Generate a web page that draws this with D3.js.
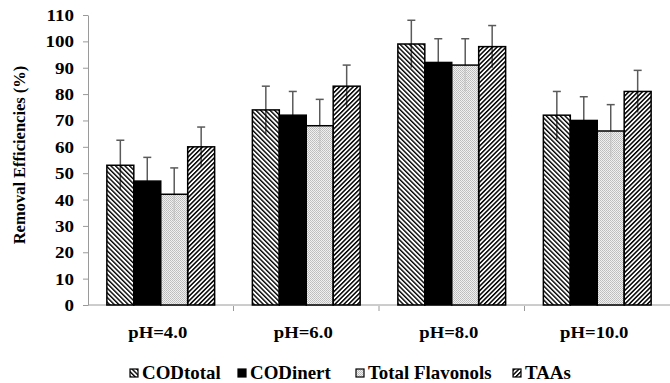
<!DOCTYPE html>
<html>
<head>
<meta charset="utf-8">
<script src="https://cdn.jsdelivr.net/npm/d3@7"></script>
<style>
  body { margin: 0; background: #fff; }
</style>
</head>
<body>
<div id="chart"></div>
<script>
  var categories = ['pH=4.0', 'pH=6.0', 'pH=8.0', 'pH=10.0'];
  var seriesNames = ['CODtotal', 'CODinert', 'Total Flavonols', 'TAAs'];

  var codTotal   = [53, 74, 99, 72];
  var codInert   = [47, 72, 92, 70];
  var flavonols  = [42, 68, 91, 66];
  var taas       = [60, 83, 98, 81];

  var codTotalErr  = [9.5, 9, 9, 9];
  var codInertErr  = [9, 9, 9, 9];
  var flavonolsErr = [10, 10, 10, 10];
  var taasErr      = [7.5, 8, 8, 8];

  var yTicks = [0, 10, 20, 30, 40, 50, 60, 70, 80, 90, 100, 110];

  var values = [codTotal, codInert, flavonols, taas];
  var errors = [codTotalErr, codInertErr, flavonolsErr, taasErr];
  var fills  = ['url(#hatchBack)', '#000', 'url(#dots)', 'url(#hatchFwd)'];

  var width = 670, height = 383;

  var svg = d3.select('#chart')
    .append('svg')
    .attr('width', width)
    .attr('height', height)
    .attr('font-family', "'Liberation Serif', 'DejaVu Serif', serif")
    .attr('font-weight', 'bold');

  var defs = svg.append('defs');

  // "\" hatch
  defs.append('pattern')
    .attr('id', 'hatchBack')
    .attr('patternUnits', 'userSpaceOnUse')
    .attr('width', 3.3)
    .attr('height', 3.3)
    .attr('patternTransform', 'rotate(-45)')
    .append('rect')
    .attr('x', 0).attr('y', 0)
    .attr('width', 1.4).attr('height', 3.3)
    .attr('fill', '#000');

  // "/" hatch
  defs.append('pattern')
    .attr('id', 'hatchFwd')
    .attr('patternUnits', 'userSpaceOnUse')
    .attr('width', 3.2)
    .attr('height', 3.2)
    .attr('patternTransform', 'rotate(45)')
    .append('rect')
    .attr('x', 0).attr('y', 0)
    .attr('width', 1.5).attr('height', 3.2)
    .attr('fill', '#000');

  // fine stipple
  var dots = defs.append('pattern')
    .attr('id', 'dots')
    .attr('patternUnits', 'userSpaceOnUse')
    .attr('width', 2)
    .attr('height', 2);
  dots.append('rect')
    .attr('width', 2).attr('height', 2)
    .attr('fill', '#ececec').attr('fill-opacity', 0.8);
  dots.append('rect')
    .attr('width', 1).attr('height', 1)
    .attr('fill', '#bcbcbc');
  dots.append('rect')
    .attr('x', 1).attr('y', 1)
    .attr('width', 1).attr('height', 1)
    .attr('fill', '#c4c4c4');

  var x0 = d3.scaleBand()
    .domain(categories)
    .range([88, 670]);

  var x1 = d3.scaleBand()
    .domain(seriesNames)
    .range([0, x0.bandwidth()])
    .paddingOuter(0.7);

  var y = d3.scaleLinear()
    .domain([0, 110])
    .range([305, 15]);

  // y axis
  var yAxis = svg.append('g')
    .attr('transform', 'translate(88,0)')
    .call(d3.axisLeft(y).tickValues(yTicks).tickSize(5).tickSizeOuter(0).tickFormat(''));
  yAxis.selectAll('path, line').attr('stroke', '#9a9a9a');

  svg.append('g').selectAll('text')
    .data(yTicks)
    .enter().append('text')
    .attr('text-anchor', 'end')
    .attr('font-size', 17)
    .attr('transform', function(d) { return 'translate(74,' + (y(d) + 6) + ') scale(1.12,1)'; })
    .text(function(d) { return d; });

  // x axis
  var xAxis = svg.append('g')
    .attr('transform', 'translate(0,305)');
  xAxis.append('line')
    .attr('x1', 88).attr('x2', 670)
    .attr('stroke', '#9a9a9a');
  xAxis.selectAll('.tick')
    .data(categories.slice(1))
    .enter().append('line')
    .attr('x1', function(d) { return x0(d); })
    .attr('x2', function(d) { return x0(d); })
    .attr('y1', 1).attr('y2', 6)
    .attr('stroke', '#9a9a9a');

  svg.append('g').selectAll('text')
    .data(categories)
    .enter().append('text')
    .attr('text-anchor', 'middle')
    .attr('font-size', 17)
    .attr('transform', function(d) { return 'translate(' + (x0(d) + x0.bandwidth() / 2 - 3) + ',338) scale(1.1,1)'; })
    .text(function(d) { return d; });

  // y title
  svg.append('text')
    .attr('text-anchor', 'middle')
    .attr('font-size', 16.5)
    .attr('transform', 'translate(25,155) rotate(-90)')
    .text('Removal Efficiencies (%)');

  // error bars (drawn beneath bars, show through the patterns)
  var errG = svg.append('g')
    .attr('stroke', '#5a5a5a')
    .attr('stroke-width', 1.5);

  // bars
  var barG = svg.append('g');

  seriesNames.forEach(function(name, s) {
    categories.forEach(function(cat, i) {
      var v = values[s][i], e = errors[s][i];
      var cx = x0(cat) + x1(name) + x1.bandwidth() / 2;
      errG.append('line')
        .attr('x1', cx).attr('x2', cx)
        .attr('y1', y(v + e)).attr('y2', y(v - e));
      errG.append('line')
        .attr('x1', cx - 4).attr('x2', cx + 4)
        .attr('y1', y(v + e)).attr('y2', y(v + e));
      barG.append('rect')
        .attr('x', x0(cat) + x1(name))
        .attr('y', y(v))
        .attr('width', x1.bandwidth())
        .attr('height', y(0) - y(v))
        .attr('fill', fills[s])
        .attr('stroke', '#000')
        .attr('stroke-width', 1.5);
    });
  });

  // legend
  var legendX = [130, 238, 356, 513];
  var legend = svg.append('g');
  seriesNames.forEach(function(name, s) {
    legend.append('rect')
      .attr('x', legendX[s]).attr('y', 369)
      .attr('width', 8).attr('height', 8)
      .attr('fill', fills[s])
      .attr('stroke', '#000')
      .attr('stroke-width', 1.2);
    legend.append('text')
      .attr('font-size', 18)
      .attr('transform', 'translate(' + (legendX[s] + 12) + ',379) scale(1.05,1)')
      .text(name);
  });
</script>
</body>
</html>
